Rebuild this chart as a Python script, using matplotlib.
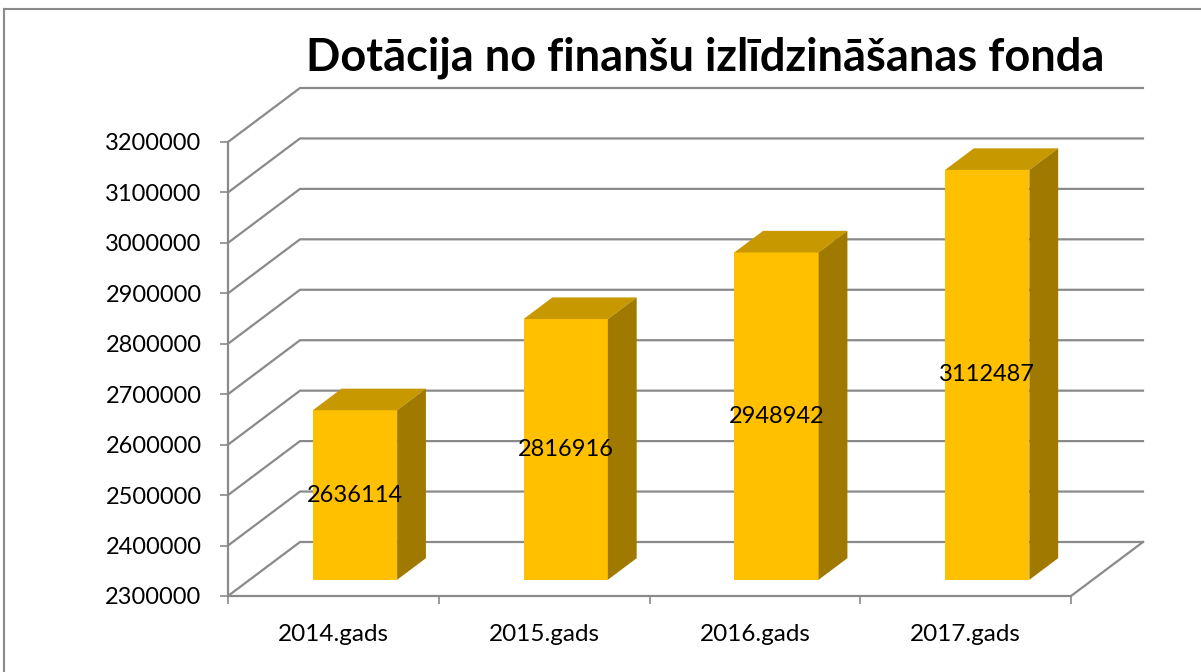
"""
Dotācija no finanšu izlīdzināšanas fonda - 3D-style column chart (Excel look).
"""
import matplotlib.pyplot as plt
from matplotlib.patches import Polygon, Rectangle
from matplotlib.lines import Line2D
import numpy as np

# data
years = ['2014.gads', '2015.gads', '2016.gads', '2017.gads']
values = [2636114, 2816916, 2948942, 3112487]
y_ticks = list(range(2300000, 3200001, 100000))
title = 'Dotācija no finanšu izlīdzināšanas fonda'

# 3D look: depth vector of the floor (data units) and bar placement inside it
DX = 0.3416         # categories
DY = 107058         # value units
FRONT, BACK = 0.3, 0.7
HALF_W = 0.2
BASE = y_ticks[0]

grid_col = '#8a8a8a'
face_col = '#FFC000'
top_col = '#C89800'
side_col = '#A07A00'

plt.rcParams['font.family'] = ['Lato', 'DejaVu Sans']

fig = plt.figure(figsize=(12.01, 6.72), dpi=100)
ax = fig.add_axes([228 / 1201, 76 / 672, 843 / 1201, 454 / 672])
ax.set_xlim(-0.5, len(years) - 0.5)
ax.set_ylim(y_ticks[0], y_ticks[-1])

# chart border (only top and left edges are visible in the picture)
fig.add_artist(Line2D([4 / 1201, 4 / 1201], [0, 1 - 9 / 672], color='#8a8a8a', lw=1.5))
fig.add_artist(Line2D([4 / 1201, 1], [1 - 9 / 672, 1 - 9 / 672], color='#8a8a8a', lw=1.5))

# gridlines: diagonal on the side wall + horizontal on the back wall
x0, x1 = -0.5, len(years) - 0.5
for v in y_ticks:
    ax.plot([x0, x0 + DX, x1 + DX], [v, v + DY, v + DY], color=grid_col, lw=1.6,
            clip_on=False, zorder=1)
# floor right edge
ax.plot([x1, x1 + DX], [BASE, BASE + DY], color=grid_col, lw=1.6, clip_on=False, zorder=1)

# bars
for i, v in enumerate(values):
    xl, xr = i - HALF_W, i + HALF_W
    front = Rectangle((xl + FRONT * DX, BASE + FRONT * DY), 2 * HALF_W, v - BASE,
                      facecolor=face_col, edgecolor='none', clip_on=False, zorder=3)
    top = Polygon([(xl + FRONT * DX, v + FRONT * DY), (xr + FRONT * DX, v + FRONT * DY),
                   (xr + BACK * DX, v + BACK * DY), (xl + BACK * DX, v + BACK * DY)],
                  closed=True, facecolor=top_col, edgecolor='none', clip_on=False, zorder=3)
    side = Polygon([(xr + FRONT * DX, BASE + FRONT * DY), (xr + BACK * DX, BASE + BACK * DY),
                    (xr + BACK * DX, v + BACK * DY), (xr + FRONT * DX, v + FRONT * DY)],
                   closed=True, facecolor=side_col, edgecolor='none', clip_on=False, zorder=3)
    for p in (front, top, side):
        ax.add_patch(p)
    ax.text(i + FRONT * DX, (BASE + v) / 2 + FRONT * DY, str(v), ha='center', va='center',
            fontsize=17, color='black', zorder=4)

# axes styling
for s in ('top', 'right'):
    ax.spines[s].set_visible(False)
for s in ('left', 'bottom'):
    ax.spines[s].set_color(grid_col)
    ax.spines[s].set_linewidth(1.6)
    ax.spines[s].set_zorder(2)

ax.set_yticks(y_ticks)
ax.set_yticklabels([str(t) for t in y_ticks], fontsize=17)
ax.tick_params(axis='y', length=6, width=1.2, color=grid_col, pad=13)

ax.set_xticks(range(len(years)))
ax.set_xticklabels(years, fontsize=17.5)
ax.set_xticks(np.arange(-0.5, len(years), 1.0), minor=True)
ax.tick_params(axis='x', which='major', length=0, pad=20)
ax.tick_params(axis='x', which='minor', length=6, width=1.2, color=grid_col)

fig.text(705 / 1201, 1 - 58 / 672, title, ha='center', va='center', fontsize=32.5,
         fontweight='bold', color='black')

fig.savefig('out.png', dpi=100)
